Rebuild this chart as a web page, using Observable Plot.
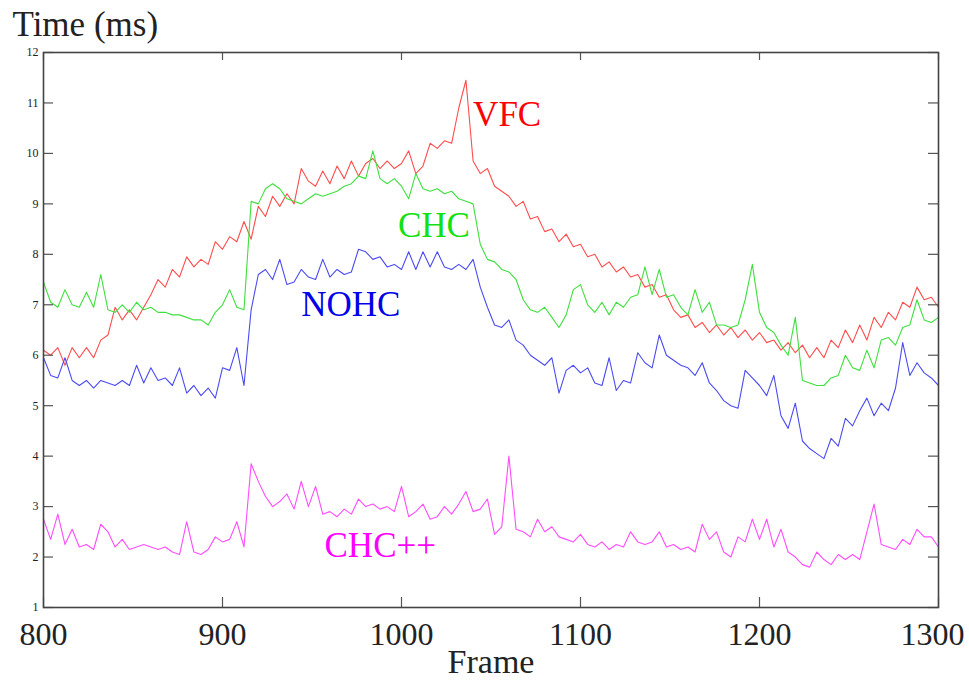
<!DOCTYPE html>
<html>
<head>
<meta charset="utf-8">
<script src="https://cdn.jsdelivr.net/npm/d3@7"></script>
<script src="https://cdn.jsdelivr.net/npm/@observablehq/plot@0.6"></script>
<style>
  html, body { margin: 0; padding: 0; background: #fff; }
</style>
</head>
<body>
<div id="chart"></div>
<script>
// Frame index of the first sample and spacing between samples
const frameStart = 800;
const frameStep = 4;

const vfc = [
  6.1, 6.0, 6.15, 5.8, 6.15, 5.95, 6.15, 5.95, 6.3, 6.4,
  6.95, 6.7, 6.9, 6.7, 6.95, 7.2, 7.5, 7.35, 7.7, 7.55,
  7.95, 7.75, 7.9, 7.8, 8.25, 8.1, 8.35, 8.25, 8.65, 8.3,
  8.95, 8.75, 9.15, 8.95, 9.2, 9.0, 9.7, 9.45, 9.35, 9.65,
  9.4, 9.75, 9.5, 9.85, 9.55, 9.8, 9.9, 9.7, 9.85, 9.7,
  9.8, 10.05, 9.6, 9.75, 10.2, 10.1, 10.25, 10.2, 10.9, 11.45,
  9.85, 9.6, 9.7, 9.35, 9.25, 9.15, 8.95, 9.05, 8.7, 8.75,
  8.45, 8.5, 8.25, 8.4, 8.15, 8.2, 7.95, 8.0, 7.75, 7.85,
  7.65, 7.75, 7.55, 7.6, 7.35, 7.4, 7.15, 7.2, 6.9, 6.75,
  6.8, 6.55, 6.65, 6.45, 6.6, 6.4, 6.55, 6.35, 6.5, 6.3,
  6.45, 6.25, 6.3, 6.1, 6.25, 6.05, 6.2, 5.95, 6.15, 5.95,
  6.3, 6.15, 6.5, 6.25, 6.6, 6.3, 6.75, 6.55, 6.85, 6.7,
  7.05, 6.95, 7.35, 7.1, 7.15, 6.95
];
const chc = [
  7.45, 7.05, 6.95, 7.3, 7.0, 6.95, 7.25, 6.95, 7.6, 6.9,
  6.85, 7.0, 6.85, 7.05, 6.9, 6.95, 6.85, 6.85, 6.8, 6.8,
  6.75, 6.7, 6.7, 6.6, 6.85, 7.0, 7.3, 6.95, 6.9, 9.05,
  9.0, 9.3, 9.4, 9.3, 9.1, 9.05, 9.0, 9.1, 9.2, 9.15,
  9.2, 9.25, 9.35, 9.4, 9.55, 9.5, 10.05, 9.5, 9.4, 9.5,
  9.35, 9.1, 9.6, 9.3, 9.25, 9.3, 9.2, 9.25, 9.1, 9.05,
  9.0, 8.2, 7.9, 7.85, 7.7, 7.65, 7.5, 7.1, 6.9, 6.85,
  6.95, 6.75, 6.55, 6.8, 7.3, 7.4, 7.0, 6.85, 7.05, 6.8,
  7.05, 6.95, 7.15, 7.2, 7.75, 7.2, 7.7, 7.15, 7.2, 6.95,
  6.8, 7.3, 6.85, 7.05, 6.6, 6.6, 6.55, 6.6, 7.1, 7.8,
  6.85, 6.55, 6.45, 6.2, 6.0, 6.75, 5.5, 5.45, 5.4, 5.4,
  5.55, 5.6, 6.0, 5.75, 5.7, 6.1, 5.75, 6.3, 6.35, 6.2,
  6.55, 6.6, 7.1, 6.7, 6.65, 6.75
];
const nohc = [
  5.95, 5.6, 5.55, 5.95, 5.5, 5.4, 5.5, 5.35, 5.5, 5.45,
  5.4, 5.5, 5.4, 5.8, 5.45, 5.75, 5.5, 5.55, 5.4, 5.75,
  5.25, 5.4, 5.2, 5.35, 5.15, 5.75, 5.7, 6.15, 5.4, 6.9,
  7.6, 7.7, 7.5, 7.9, 7.4, 7.45, 7.7, 7.55, 7.5, 7.9,
  7.55, 7.7, 7.6, 7.65, 8.1, 8.05, 7.9, 7.95, 7.75, 7.8,
  7.7, 8.05, 7.7, 8.05, 7.75, 8.05, 7.75, 7.7, 7.8, 7.7,
  7.9, 7.35, 6.95, 6.6, 6.55, 6.7, 6.3, 6.2, 6.0, 5.9,
  5.8, 5.95, 5.25, 5.7, 5.8, 5.65, 5.75, 5.45, 5.4, 5.95,
  5.3, 5.5, 5.45, 6.05, 5.85, 5.75, 6.4, 6.0, 5.9, 5.8,
  5.75, 5.6, 5.85, 5.45, 5.3, 5.1, 5.0, 4.95, 5.7, 5.55,
  5.4, 5.2, 5.6, 4.8, 4.55, 5.05, 4.3, 4.15, 4.05, 3.95,
  4.35, 4.2, 4.75, 4.6, 4.9, 5.15, 4.8, 5.05, 4.9, 5.35,
  6.25, 5.6, 5.85, 5.65, 5.55, 5.4
];
const chcpp = [
  2.75, 2.35, 2.85, 2.25, 2.55, 2.2, 2.25, 2.15, 2.65, 2.5,
  2.2, 2.35, 2.15, 2.2, 2.25, 2.2, 2.15, 2.2, 2.1, 2.05,
  2.7, 2.1, 2.05, 2.15, 2.4, 2.3, 2.35, 2.7, 2.2, 3.85,
  3.5, 3.2, 3.0, 3.1, 3.25, 2.95, 3.5, 3.0, 3.4, 2.85,
  2.9, 2.8, 2.95, 2.85, 3.15, 3.0, 3.05, 2.95, 3.0, 2.9,
  3.4, 2.8, 2.9, 3.05, 2.75, 2.8, 3.0, 2.85, 3.05, 3.3,
  2.9, 2.95, 3.15, 2.45, 2.6, 4.0, 2.55, 2.5, 2.4, 2.75,
  2.5, 2.6, 2.4, 2.35, 2.3, 2.45, 2.25, 2.2, 2.3, 2.15,
  2.25, 2.2, 2.5, 2.3, 2.25, 2.3, 2.5, 2.2, 2.25, 2.15,
  2.2, 2.1, 2.65, 2.35, 2.5, 2.1, 2.0, 2.4, 2.3, 2.75,
  2.35, 2.75, 2.2, 2.55, 2.1, 2.0, 1.85, 1.8, 2.1, 1.95,
  1.85, 2.05, 1.95, 2.05, 1.95, 2.5, 3.05, 2.25, 2.2, 2.15,
  2.35, 2.25, 2.55, 2.4, 2.4, 2.2
];

const seriesNames = ["VFC", "CHC", "NOHC", "CHC++"];
const seriesValues = [vfc, chc, nohc, chcpp];

// Tick values
const xTicks = [800, 900, 1000, 1100, 1200, 1300];
const xTicksInner = [800, 900, 1000, 1100, 1200];
const xTickLast = [1300];
const yTicks = [1, 2, 3, 4, 5, 6, 7, 8, 9, 10, 11, 12];

// In-plot series labels (data coordinates)
const labelFrames = [1040, 998, 944, 957];
const labelValues = [10.76, 8.57, 7.0, 2.23];

// Styles
const lineColors = ["#ff4d4d", "#3ee03e", "#4b4bf2", "#ff4dff"];
const labelColors = ["#ff0000", "#11e011", "#0000e8", "#ff00ff"];

const rows = seriesNames.flatMap((name, s) =>
  seriesValues[s].map((v, i) => ({series: name, frame: frameStart + i * frameStep, value: v}))
);
const labels = seriesNames.map((name, i) => ({series: name, frame: labelFrames[i], value: labelValues[i], color: labelColors[i]}));

const W = 969, H = 680, mL = 43, mR = 31, mT = 52, mB = 73;
const pw = W - mL - mR, ph = H - mT - mB;
const font = "'Liberation Serif', 'Times New Roman', Times, serif";

const chart = Plot.plot({
  width: W,
  height: H,
  marginLeft: mL,
  marginRight: mR,
  marginTop: mT,
  marginBottom: mB,
  style: {fontFamily: font, background: "#fff", color: "#222"},
  x: {domain: [800, 1300]},
  y: {domain: [1, 12]},
  color: {domain: seriesNames, range: lineColors},
  marks: [
    Plot.line(rows, {x: "frame", y: "value", z: "series", stroke: "series", strokeWidth: 1.1}),
    Plot.tickY(yTicks, {y: d => d, stroke: "#555", strokeWidth: 1.2, insetRight: pw - 10}),
    Plot.tickY(yTicks, {y: d => d, stroke: "#555", strokeWidth: 1.2, insetLeft: pw - 10}),
    Plot.tickX(xTicks, {x: d => d, stroke: "#555", strokeWidth: 1.2, insetTop: ph - 10}),
    Plot.tickX(xTicks, {x: d => d, stroke: "#555", strokeWidth: 1.2, insetBottom: ph - 8}),
    Plot.frame({stroke: "#444", strokeWidth: 1.6}),
    Plot.axisY({ticks: yTicks, tickSize: 0, tickPadding: 5, fontSize: 12, tickFormat: "d", label: null}),
    Plot.axisX({ticks: xTicksInner, tickSize: 0, tickPadding: 15, fontSize: 32, tickFormat: "d", label: null}),
    Plot.axisX({ticks: xTickLast, tickSize: 0, tickPadding: 15, fontSize: 32, tickFormat: "d", label: null, dx: -6}),
    Plot.text(labels, {x: "frame", y: "value", text: "series", fill: d => d.color, textAnchor: "start", lineAnchor: "middle", fontSize: 35}),
    Plot.text(["Time (ms)"], {frameAnchor: "top-left", dx: -31, dy: -28, textAnchor: "start", lineAnchor: "middle", fontSize: 35, fill: "#222"}),
    Plot.text(["Frame"], {frameAnchor: "bottom", dy: 55, lineAnchor: "middle", fontSize: 34, fill: "#222"})
  ]
});

document.getElementById("chart").appendChild(chart);
</script>
</body>
</html>
